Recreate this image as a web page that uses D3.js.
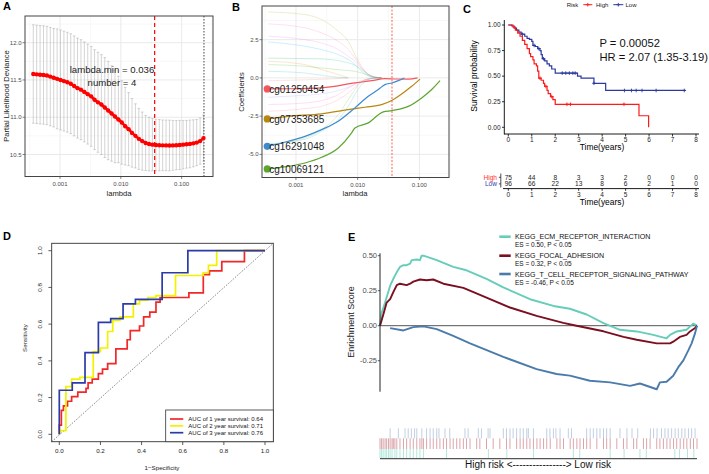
<!DOCTYPE html>
<html>
<head>
<meta charset="utf-8">
<script src="https://cdn.jsdelivr.net/npm/d3@7/dist/d3.min.js"></script>
<style>
  body { margin: 0; background: #fff; }
  svg { display: block; font-family: 'Liberation Sans', Arial, sans-serif; }
</style>
</head>
<body>
<svg id="fig" width="709" height="474"></svg>
<script>
// ---- A: cross-validation deviance ----
var cvLogLambda = [-3.44, -3.384, -3.328, -3.272, -3.216, -3.16, -3.104, -3.048, -2.992, -2.936,
  -2.88, -2.824, -2.768, -2.712, -2.656, -2.6, -2.544, -2.488, -2.432, -2.376,
  -2.32, -2.264, -2.208, -2.152, -2.096, -2.04, -1.984, -1.928, -1.872, -1.816,
  -1.76, -1.704, -1.648, -1.592, -1.536, -1.48, -1.424, -1.368, -1.312, -1.256,
  -1.2, -1.144, -1.088, -1.032, -0.976, -0.92, -0.864, -0.808, -0.752, -0.696, -0.64];
var cvMean = [11.58, 11.575, 11.57, 11.567, 11.56, 11.545, 11.53, 11.515, 11.50, 11.485,
  11.47, 11.45, 11.42, 11.39, 11.37, 11.34, 11.31, 11.28, 11.235, 11.20,
  11.17, 11.13, 11.09, 11.05, 11.01, 10.97, 10.93, 10.88, 10.84, 10.79,
  10.75, 10.71, 10.68, 10.655, 10.64, 10.632, 10.628, 10.625, 10.623, 10.622,
  10.621, 10.622, 10.625, 10.628, 10.632, 10.637, 10.642, 10.65, 10.66, 10.68, 10.72];
var cvSd = [0.66, 0.66, 0.66, 0.66, 0.66, 0.66, 0.66, 0.67, 0.67, 0.67,
  0.67, 0.67, 0.67, 0.67, 0.67, 0.67, 0.67, 0.67, 0.67, 0.67,
  0.67, 0.67, 0.66, 0.64, 0.62, 0.58, 0.56, 0.52, 0.49, 0.46,
  0.43, 0.41, 0.39, 0.37, 0.36, 0.35, 0.345, 0.345, 0.34, 0.34,
  0.34, 0.335, 0.33, 0.33, 0.325, 0.32, 0.32, 0.315, 0.31, 0.31, 0.31];
var lambdaMin = 0.036, lambda1se = 0.233;

// ---- B: coefficient paths ----
var bgLogLambda = [-3.448, -2.854, -2.584, -2.314, -2.152, -2.044, -1.936, -1.828, -1.72, -1.612];
var bgCoef = [
  [4.31, 4.14, 3.81, 3.05, 2.39, 1.52, 0.76, 0.22, 0.04, 0],
  [3.53, 3.27, 2.94, 2.39, 1.85, 1.30, 0.65, 0.26, 0.08, 0],
  [2.72, 2.50, 2.28, 1.85, 1.41, 1.08, 0.61, 0.22, 0.04, 0],
  [2.35, 2.07, 1.85, 1.52, 1.20, 0.87, 0.43, 0.13, 0.02, 0],
  [1.30, 1.26, 1.24, 1.13, 0.98, 0.83, 0.54, 0.22, 0.04, 0],
  [1.09, 0.87, 0.54, 0.22, 0],
  [0.87, 0.76, 0.65, 0.54, 0.48, 0.43, 0.32, 0.17, 0.04, 0],
  [0.43, 0.32, 0.17, 0.04, 0],
  [-0.18, -0.13, -0.09, -0.04, 0],
  [-1.27, -1.13, -1.05, -0.83, -0.61, -0.44, -0.22, -0.09, -0.02, 0],
  [-2.18, -2.01, -1.85, -1.42, -0.98, -0.61, -0.26, -0.09, -0.02, 0],
  [-4.30, -4.01, -3.49, -2.72, -1.85, -1.09, -0.44, -0.11, -0.02, 0],
  [-4.36, -3.92, -3.38, -2.40, -1.42, -0.76, -0.26, -0.05, 0, 0],
  [-1.74, -1.64, -1.48, -1.09, -0.66, -0.39, -0.18, -0.05, 0, 0]
];
var bgColors = ['#A3A500', '#FF62BC', '#E76BF3', '#00B0F6', '#00BF7D', '#E58700', '#39B600',
  '#00C0AF', '#F8766D', '#9590FF', '#FF6C91', '#00BCD8', '#7CAE00', '#FD61D1'];
var geneNames = ['cg01250454', 'cg07353685', 'cg16291048', 'cg10069121'];
var geneColors = ['#F2575C', '#B8870F', '#3C8AD0', '#5EA52F'];
var geneLogLambda = [
  [-3.465, -3.124, -2.584, -2.044, -1.77, -1.56, -1.40, -1.18, -1.03],
  [-3.465, -3.124, -2.584, -2.152, -1.882, -1.612, -1.449, -1.287, -1.125, -0.99],
  [-3.465, -3.124, -2.854, -2.584, -2.314, -2.044, -1.828, -1.666, -1.558, -1.449, -1.342, -1.244],
  [-3.465, -3.124, -2.854, -2.584, -2.314, -2.098, -2.044, -1.828, -1.585, -1.449, -1.179, -0.963, -0.8, -0.665]
];
var geneCoef = [
  [-0.72, -0.71, -0.65, -0.33, -0.18, -0.05, -0.07, -0.08, 0],
  [-2.68, -2.51, -2.35, -2.07, -1.92, -1.75, -1.48, -1.05, -0.55, -0.08],
  [-4.47, -4.14, -3.82, -3.38, -2.83, -1.96, -1.2, -0.76, -0.44, -0.33, -0.18, 0],
  [-5.95, -5.78, -5.56, -5.19, -4.58, -3.59, -3.27, -2.94, -2.22, -2.14, -1.86, -1.31, -0.76, -0.18]
];

// ---- C: Kaplan-Meier ----
var highTime = [0, 0.2, 0.3, 0.4, 0.5, 0.6, 0.7, 0.8, 0.9, 0.95, 1.05, 1.1, 1.2, 1.25, 1.3, 1.4, 1.5, 1.55, 1.65, 1.7, 1.8, 1.9, 2.0, 5.57, 5.98];
var highSurv = [1, 0.98, 0.95, 0.92, 0.89, 0.85, 0.81, 0.77, 0.72, 0.69, 0.66, 0.62, 0.60, 0.55, 0.48, 0.46, 0.43, 0.40, 0.36, 0.33, 0.30, 0.27, 0.225, 0.113, 0];
var highCensor = [1.35, 1.6, 1.85, 2.5, 2.65, 4.93];
var lowTime = [0, 0.15, 0.25, 0.35, 0.45, 0.55, 0.7, 0.8, 0.9, 1.0, 1.05, 1.15, 1.25, 1.35, 1.4, 1.45, 1.55, 1.65, 1.75, 1.85, 2.0, 2.95, 3.1, 3.65, 4.15, 7.55];
var lowSurv = [1, 0.99, 0.97, 0.95, 0.93, 0.91, 0.89, 0.87, 0.86, 0.84, 0.80, 0.79, 0.77, 0.75, 0.71, 0.67, 0.65, 0.62, 0.60, 0.57, 0.53, 0.50, 0.48, 0.43, 0.36, 0.36];
var lowCensor = [0.6, 1.1, 1.3, 1.5, 2.3, 2.45, 2.6, 2.75, 2.85, 3.65, 4.95, 5.25, 5.45, 5.7, 6.3, 7.5];
var riskYears = [0, 1, 2, 3, 4, 5, 6, 7, 8];
var highAtRisk = [75, 44, 8, 3, 3, 2, 0, 0, 0];
var lowAtRisk = [96, 66, 22, 13, 8, 6, 2, 1, 0];

// ---- D: time-dependent ROC ----
var roc1Fpr = [0, 0, 0.01, 0.02, 0.04, 0.06, 0.09, 0.13, 0.14, 0.16, 0.19, 0.21, 0.235, 0.275, 0.33, 0.345, 0.39, 0.41, 0.44, 0.47, 0.49, 0.63, 0.70, 0.73, 0.79, 0.90, 1.0];
var roc1Tpr = [0, 0.05, 0.13, 0.155, 0.18, 0.205, 0.23, 0.25, 0.28, 0.30, 0.33, 0.355, 0.385, 0.465, 0.515, 0.565, 0.59, 0.64, 0.665, 0.72, 0.745, 0.77, 0.87, 0.89, 0.94, 1.0, 1.0];
var roc2Fpr = [0, 0, 0.032, 0.06, 0.10, 0.165, 0.20, 0.235, 0.26, 0.295, 0.36, 0.39, 0.43, 0.47, 0.565, 0.70, 0.725, 0.765, 1.0];
var roc2Tpr = [0, 0.02, 0.26, 0.30, 0.31, 0.45, 0.47, 0.56, 0.62, 0.64, 0.71, 0.73, 0.745, 0.755, 0.865, 0.88, 0.92, 1.0, 1.0];
var roc3Fpr = [0, 0, 0.063, 0.125, 0.19, 0.25, 0.31, 0.37, 0.5, 0.625, 1.0];
var roc3Tpr = [0, 0.24, 0.28, 0.445, 0.61, 0.63, 0.71, 0.735, 0.88, 1.0, 1.0];
var rocLabels = ['AUC of 1 year survival:  0.64', 'AUC of 2 year survival:  0.71', 'AUC of 3 year survival: 0.76'];

// ---- E: GSEA running enrichment score ----
var ecmRank = [0, 0.5, 1.6, 3.2, 4.2, 5.3, 6.3, 7.4, 8.4, 9.5, 10, 11.6, 12.6, 13.1, 13.7, 17.9, 23.1, 27.3, 33.6, 38.9, 47.3, 54.7, 59.9, 65.2, 70.5, 75.7, 81, 86.2, 90.4, 91.5, 93.6, 96.7, 98.8, 100];
var ecmES = [0, 0.09, 0.165, 0.286, 0.335, 0.383, 0.42, 0.432, 0.432, 0.444, 0.468, 0.473, 0.468, 0.50, 0.50, 0.468, 0.42, 0.396, 0.335, 0.274, 0.189, 0.141, 0.121, 0.08, 0.019, -0.029, -0.041, -0.066, -0.09, -0.066, -0.041, -0.029, 0.015, 0];
var focalRank = [0, 1.05, 2.1, 3.2, 4.2, 5.3, 6.3, 8.4, 9.5, 10.5, 12.6, 14.7, 16.8, 20, 26.3, 33.6, 41, 49.4, 57.8, 62, 70.5, 76.8, 81, 87.3, 91.5, 92.5, 94.6, 96.7, 97.8, 99.4, 100];
var focalES = [0, 0.08, 0.165, 0.19, 0.24, 0.29, 0.30, 0.29, 0.30, 0.315, 0.33, 0.325, 0.33, 0.30, 0.27, 0.20, 0.13, 0.07, 0.02, 0, -0.04, -0.08, -0.10, -0.126, -0.126, -0.114, -0.08, -0.066, -0.041, -0.017, 0];
var tcellRank = [3.2, 7.4, 10.5, 13.7, 17.9, 23.1, 28.4, 38.9, 49.4, 55.7, 59.9, 66.2, 72.6, 78.9, 82, 87.3, 88.3, 90.4, 92.5, 94.1, 95.7, 97.3, 98.3, 99.4, 100];
var tcellES = [-0.017, -0.034, -0.01, -0.005, -0.024, -0.073, -0.126, -0.223, -0.31, -0.345, -0.357, -0.393, -0.405, -0.43, -0.413, -0.454, -0.405, -0.40, -0.357, -0.296, -0.248, -0.175, -0.126, -0.053, 0];
var tcellHits = [3.2, 5.8, 7.9, 8.9, 9.9, 10.9, 11.6, 13.2, 14.7, 15.8, 16.8, 17.9, 18.6, 20.5, 22, 26.8, 27.8, 31, 32, 34.1, 34.7, 38.9, 39.9, 41, 42, 43.1, 44.2, 45.2, 46.3, 46.8, 48.4, 52.6, 53.6, 54.7, 55.5, 56.8, 59.4, 60.4, 65.2, 66.3, 67.3, 68.4, 69.4, 70.5, 71.5, 72.6, 75.7, 77.9, 79.5, 81.3, 85.3, 86.3, 87.4, 88.8, 89.9, 90.9, 92, 93.1, 94.1, 95.2, 96.2, 97.3, 98.3, 99.4];
var focalHits = [0, 0.5, 1, 1.6, 2.1, 2.7, 3.2, 3.8, 4.2, 4.7, 5.3, 6.3, 7.4, 8.4, 9.5, 10.5, 11.6, 12.6, 13.2, 13.7, 14.7, 15.8, 16.8, 17.9, 18.9, 20, 21, 22.1, 23.1, 24.2, 25.2, 26.3, 27.3, 28.4, 30.5, 31.5, 33.6, 35.7, 37.8, 39.9, 41, 43.1, 44.2, 45.2, 46.3, 47.3, 48.4, 49.5, 50.5, 51.6, 52.6, 53.7, 55.8, 56.8, 57.9, 60, 61, 62.1, 63.1, 64.2, 65.2, 66.3, 68.4, 70.5, 71.5, 72.6, 74.7, 76.8, 77.9, 80, 81, 83.1, 84.1, 85.2, 87.3, 88.3, 89.4, 90.5, 91.5, 92.6, 93.6, 94.7, 95.8, 96.8, 97.9, 98.9, 100];
var ecmHits = [0, 0.5, 1, 1.6, 2.1, 2.7, 3.2, 3.8, 4.7, 5.3, 6.3, 7.4, 8.4, 9.5, 10.5, 11.6, 12.6, 13.7, 21, 34.2, 40, 48.4, 61, 63, 72.6, 77, 82, 84, 93, 94.5, 97, 99];
var gseaNames = ['KEGG_ECM_RECEPTOR_INTERACTION', 'KEGG_FOCAL_ADHESION', 'KEGG_T_CELL_RECEPTOR_SIGNALING_PATHWAY'];
var gseaStats = ['ES = 0.50, P < 0.05', 'ES = 0.32, P < 0.05', 'ES = -0.46, P < 0.05'];
var gseaColors = ['#66CDB9', '#7B0F1F', '#4B7BAB'];

var svg = d3.select('#fig');
svg.append('rect').attr('width', 709).attr('height', 474).attr('fill', '#fff');

function txt(g, x, y, s, size, fill, anchor, rot) {
  var t = g.append('text').attr('x', x).attr('y', y).text(s)
    .attr('font-size', size).attr('fill', fill || '#000')
    .attr('text-anchor', anchor || 'start');
  if (rot) t.attr('transform', 'rotate(-90,' + x + ',' + y + ')');
  return t;
}

// ggplot theme_bw style panel
function ggPanel(g, x, y, xMaj, xMin, yMaj, yMin, fx, fy) {
  var L = x.range()[0], R = x.range()[1], B = y.range()[0], T = y.range()[1];
  var gr = g.append('g');
  gr.selectAll('.vm').data(xMin).join('line')
    .attr('x1', d => x(d)).attr('x2', d => x(d)).attr('y1', T).attr('y2', B)
    .attr('stroke', '#F3F3F3').attr('stroke-width', 0.6);
  gr.selectAll('.hm').data(yMin).join('line')
    .attr('x1', L).attr('x2', R).attr('y1', d => y(d)).attr('y2', d => y(d))
    .attr('stroke', '#F3F3F3').attr('stroke-width', 0.6);
  gr.selectAll('.vM').data(xMaj).join('line')
    .attr('x1', d => x(d)).attr('x2', d => x(d)).attr('y1', T).attr('y2', B)
    .attr('stroke', '#E8E8E8').attr('stroke-width', 0.9);
  gr.selectAll('.hM').data(yMaj).join('line')
    .attr('x1', L).attr('x2', R).attr('y1', d => y(d)).attr('y2', d => y(d))
    .attr('stroke', '#E8E8E8').attr('stroke-width', 0.9);
  g.selectAll('.xt').data(xMaj).join('line')
    .attr('x1', d => x(d)).attr('x2', d => x(d)).attr('y1', B).attr('y2', B + 2.5)
    .attr('stroke', '#333').attr('stroke-width', 0.6);
  g.selectAll('.yt').data(yMaj).join('line')
    .attr('x1', L - 2.5).attr('x2', L).attr('y1', d => y(d)).attr('y2', d => y(d))
    .attr('stroke', '#333').attr('stroke-width', 0.6);
  g.selectAll('.xl').data(xMaj).join('text')
    .attr('x', d => x(d)).attr('y', B + 9).attr('text-anchor', 'middle')
    .attr('font-size', 6).attr('fill', '#4D4D4D').text(fx);
  g.selectAll('.yl').data(yMaj).join('text')
    .attr('x', L - 3.5).attr('y', d => y(d) + 2.1).attr('text-anchor', 'end')
    .attr('font-size', 6).attr('fill', '#4D4D4D').text(fy);
}
function border(g, x, y) {
  var L = x.range()[0], R = x.range()[1], B = y.range()[0], T = y.range()[1];
  g.append('rect').attr('x', L).attr('y', T).attr('width', R - L).attr('height', B - T)
    .attr('fill', 'none').attr('stroke', '#444').attr('stroke-width', 1);
}
var f3 = d3.format('.3f'), f1 = d => d3.format('.1f')(d).replace('\u2212', '-');

// ================= A =================
var gA = svg.append('g');
var xA = d3.scaleLog().domain([Math.pow(10, -3.576), Math.pow(10, -0.484)]).range([25, 213]);
var yA = d3.scaleLinear().domain([10.205, 12.358]).range([176.5, 16]);
ggPanel(gA, xA, yA, [0.001, 0.01, 0.1], [Math.pow(10, -3.5), Math.pow(10, -2.5), Math.pow(10, -1.5), Math.pow(10, -0.5)],
  [10.5, 11, 11.5, 12], [10.25, 10.75, 11.25, 11.75, 12.25], f3, f1);
var cvLambda = cvLogLambda.map(v => Math.pow(10, v));
gA.selectAll('.eb').data(cvLambda).join('line')
  .attr('x1', d => xA(d)).attr('x2', d => xA(d))
  .attr('y1', (d, i) => yA(cvMean[i] + cvSd[i])).attr('y2', (d, i) => yA(cvMean[i] - cvSd[i]))
  .attr('stroke', '#A8A8A8').attr('stroke-width', 0.5);
[1, -1].forEach(function (s) {
  gA.selectAll('.cap' + s).data(cvLambda).join('line')
    .attr('x1', d => xA(d) - 1.3).attr('x2', d => xA(d) + 1.3)
    .attr('y1', (d, i) => yA(cvMean[i] + s * cvSd[i])).attr('y2', (d, i) => yA(cvMean[i] + s * cvSd[i]))
    .attr('stroke', '#A8A8A8').attr('stroke-width', 0.5);
});
gA.append('line').attr('x1', xA(lambdaMin)).attr('x2', xA(lambdaMin)).attr('y1', 16).attr('y2', 176.5)
  .attr('stroke', '#FF0000').attr('stroke-width', 1.2).attr('stroke-dasharray', '4,3');
gA.append('line').attr('x1', xA(lambda1se)).attr('x2', xA(lambda1se)).attr('y1', 16).attr('y2', 176.5)
  .attr('stroke', '#444').attr('stroke-width', 1).attr('stroke-dasharray', '1.5,1.5');
gA.append('path').datum(cvLambda)
  .attr('d', d3.line().x(d => xA(d)).y((d, i) => yA(cvMean[i])))
  .attr('fill', 'none').attr('stroke', '#FF0000').attr('stroke-width', 2.5);
gA.selectAll('.pt').data(cvLambda).join('circle')
  .attr('cx', d => xA(d)).attr('cy', (d, i) => yA(cvMean[i])).attr('r', 2.2).attr('fill', '#FF0000');
border(gA, xA, yA);
txt(gA, 112, 72.8, 'lambda.min = ' + lambdaMin, 9.6, '#222', 'middle');
txt(gA, 112, 85.8, 'number = 4', 9.6, '#222', 'middle');
txt(gA, 119, 196, 'lambda', 7.6, '#222', 'middle');
txt(gA, 8.5, 96, 'Partial Likelihood Deviance', 7.6, '#222', 'middle', true);
txt(gA, 3, 10, 'A', 11, '#000').attr('font-weight', 'bold');

// ================= B =================
var gB = svg.append('g');
var xB = d3.scaleLog().domain([Math.pow(10, -3.55), Math.pow(10, -0.52)]).range([262, 449]);
var yB = d3.scaleLinear().domain([-6.51, 4.70]).range([177.5, 6]);
ggPanel(gB, xB, yB, [0.001, 0.01, 0.1], [Math.pow(10, -3.5), Math.pow(10, -2.5), Math.pow(10, -1.5), Math.pow(10, -0.5)],
  [-5, -2.5, 0, 2.5], [-6.25, -3.75, -1.25, 1.25, 3.75], f3, f1);
var lineB = d3.line().curve(d3.curveMonotoneX).x(d => xB(Math.pow(10, d[0]))).y(d => yB(d[1]));
gB.selectAll('.bg').data(bgCoef).join('path')
  .attr('d', c => lineB(c.map((v, i) => [bgLogLambda[i], v])))
  .attr('fill', 'none').attr('stroke', (c, i) => bgColors[i]).attr('stroke-opacity', 0.2).attr('stroke-width', 1);
gB.append('line').attr('x1', xB(lambdaMin)).attr('x2', xB(lambdaMin)).attr('y1', 6).attr('y2', 177.5)
  .attr('stroke', '#FF6F61').attr('stroke-width', 1.1).attr('stroke-dasharray', '2,1.5');
geneCoef.forEach(function (c, k) {
  gB.append('path').attr('d', lineB(c.map((v, i) => [geneLogLambda[k][i], v])))
    .attr('fill', 'none').attr('stroke', geneColors[k]).attr('stroke-width', 1.2);
});
geneCoef.forEach(function (c, k) {
  var cx = xB(Math.pow(10, geneLogLambda[k][0])), cy = yB(c[0]);
  gB.append('circle').attr('cx', cx).attr('cy', cy).attr('r', 3.6).attr('fill', geneColors[k]);
  txt(gB, cx + 2, cy + 3.6, geneNames[k], 10, '#1A1A1A');
});
border(gB, xB, yB);
txt(gB, 355, 195.5, 'lambda', 7.6, '#222', 'middle');
txt(gB, 244, 92, 'Coefficients', 7.6, '#222', 'middle', true);
txt(gB, 232, 10.5, 'B', 11, '#000').attr('font-weight', 'bold');

// ================= C =================
var gC = svg.append('g');
var xC = d3.scaleLinear().domain([0, 8]).range([508.3, 696]);
var yC = d3.scaleLinear().domain([0, 1]).range([127.3, 25]);
var kmColors = { high: '#FF1A1A', low: '#2C3A9F' };
gC.append('line').attr('x1', 504.3).attr('x2', 504.3).attr('y1', 20).attr('y2', 134.3).attr('stroke', '#000').attr('stroke-width', 0.9);
gC.append('line').attr('x1', 504).attr('x2', 699).attr('y1', 134).attr('y2', 134).attr('stroke', '#000').attr('stroke-width', 0.9);
gC.selectAll('.yt').data([0, 0.25, 0.5, 0.75, 1]).join('line')
  .attr('x1', 502).attr('x2', 504.3).attr('y1', d => yC(d)).attr('y2', d => yC(d)).attr('stroke', '#000').attr('stroke-width', 0.8);
gC.selectAll('.yl').data([0, 0.25, 0.5, 0.75, 1]).join('text')
  .attr('x', 500.5).attr('y', d => yC(d) + 2.3).attr('text-anchor', 'end').attr('font-size', 6.5).attr('fill', '#222')
  .text(d3.format('.2f'));
gC.selectAll('.xt').data(riskYears).join('line')
  .attr('x1', d => xC(d)).attr('x2', d => xC(d)).attr('y1', 134).attr('y2', 136.5).attr('stroke', '#000').attr('stroke-width', 0.8);
gC.selectAll('.xl').data(riskYears).join('text')
  .attr('x', d => xC(d)).attr('y', 141.8).attr('text-anchor', 'middle').attr('font-size', 6.5).attr('fill', '#222').text(d => d);
txt(gC, 602, 149.5, 'Time(years)', 8.4, '#000', 'middle');
txt(gC, 476.5, 76, 'Survival probability', 8.5, '#000', 'middle', true);
var kmLine = d3.line().curve(d3.curveStepAfter).x(d => xC(d[0])).y(d => yC(d[1]));
function survAt(times, surv, t) { return surv[Math.max(0, d3.bisectRight(times, t) - 1)]; }
function plus(g, x, y, col) {
  g.append('path').attr('d', 'M' + (x - 1.8) + ',' + y + 'h3.6M' + x + ',' + (y - 1.8) + 'v3.6')
    .attr('stroke', col).attr('stroke-width', 0.9).attr('fill', 'none');
}
gC.append('path').attr('d', kmLine(lowTime.map((t, i) => [t, lowSurv[i]])))
  .attr('fill', 'none').attr('stroke', kmColors.low).attr('stroke-width', 1.2);
gC.append('path').attr('d', kmLine(highTime.map((t, i) => [t, highSurv[i]])))
  .attr('fill', 'none').attr('stroke', kmColors.high).attr('stroke-width', 1.2);
lowCensor.forEach(t => plus(gC, xC(t), yC(survAt(lowTime, lowSurv, t)), kmColors.low));
highCensor.forEach(t => plus(gC, xC(t), yC(survAt(highTime, highSurv, t)), kmColors.high));
txt(gC, 599.5, 46.7, 'P = 0.00052', 11.2, '#111');
txt(gC, 599.5, 61.3, 'HR = 2.07 (1.35-3.19)', 11.2, '#111');
// legend
txt(gC, 566.7, 6.8, 'Risk', 6, '#222');
gC.append('line').attr('x1', 583.3).attr('x2', 592.3).attr('y1', 4.7).attr('y2', 4.7).attr('stroke', kmColors.high).attr('stroke-width', 1);
plus(gC, 587.8, 4.7, kmColors.high);
txt(gC, 596, 6.8, 'High', 6, '#222');
gC.append('line').attr('x1', 613.3).attr('x2', 623.3).attr('y1', 4.7).attr('y2', 4.7).attr('stroke', kmColors.low).attr('stroke-width', 1);
plus(gC, 618.3, 4.7, kmColors.low);
txt(gC, 625.5, 6.8, 'Low', 6, '#222');
// risk table
gC.selectAll('.rh').data(highAtRisk).join('text')
  .attr('x', (d, i) => xC(riskYears[i])).attr('y', 179.6).attr('text-anchor', 'middle').attr('font-size', 6.6).attr('fill', '#222').text(d => d);
gC.selectAll('.rl').data(lowAtRisk).join('text')
  .attr('x', (d, i) => xC(riskYears[i])).attr('y', 186.3).attr('text-anchor', 'middle').attr('font-size', 6.6).attr('fill', '#222').text(d => d);
txt(gC, 497, 179.6, 'High', 6.6, '#FF3030', 'end');
txt(gC, 497, 186.3, 'Low', 6.6, '#3040B0', 'end');
gC.append('path').attr('d', 'M500.8,173.5V187.5M498.8,177.3H500.8M498.8,183.9H500.8').attr('stroke', '#222').attr('stroke-width', 0.8).attr('fill', 'none');
gC.append('line').attr('x1', 503).attr('x2', 699).attr('y1', 188.6).attr('y2', 188.6).attr('stroke', '#000').attr('stroke-width', 0.9);
gC.selectAll('.rt').data(riskYears).join('line')
  .attr('x1', d => xC(d)).attr('x2', d => xC(d)).attr('y1', 188.6).attr('y2', 190.8).attr('stroke', '#000').attr('stroke-width', 0.8);
gC.selectAll('.rtl').data(riskYears).join('text')
  .attr('x', d => xC(d)).attr('y', 196.8).attr('text-anchor', 'middle').attr('font-size', 6.5).attr('fill', '#222').text(d => d);
txt(gC, 602, 205, 'Time(years)', 8.4, '#000', 'middle');
txt(gC, 463, 13, 'C', 11, '#000').attr('font-weight', 'bold');

// ================= D =================
var gD = svg.append('g');
var xD = d3.scaleLinear().domain([0, 1]).range([59.3, 265]);
var yD = d3.scaleLinear().domain([0, 1]).range([434.3, 250.7]);
var dTicks = [0, 0.2, 0.4, 0.6, 0.8, 1];
gD.append('line').attr('x1', 51.7).attr('y1', 441.7).attr('x2', 273.3).attr('y2', 243.3)
  .attr('stroke', '#666').attr('stroke-width', 0.8).attr('stroke-dasharray', '1.5,1.5');
var rocLine = d3.line().curve(d3.curveStepAfter).x(d => xD(d[0])).y(d => yD(d[1]));
[[roc1Fpr, roc1Tpr, '#F02828'], [roc2Fpr, roc2Tpr, '#F2F200'], [roc3Fpr, roc3Tpr, '#2B3BA8']].forEach(function (r) {
  gD.append('path').attr('d', rocLine(r[0].map((f, i) => [f, r[1][i]])))
    .attr('fill', 'none').attr('stroke', r[2]).attr('stroke-width', 1.7);
});
gD.append('rect').attr('x', 51.7).attr('y', 243.3).attr('width', 221.6).attr('height', 198.4)
  .attr('fill', 'none').attr('stroke', '#333').attr('stroke-width', 0.9);
gD.selectAll('.xt').data(dTicks).join('line')
  .attr('x1', d => xD(d)).attr('x2', d => xD(d)).attr('y1', 441.7).attr('y2', 445).attr('stroke', '#333').attr('stroke-width', 0.8);
gD.selectAll('.xl').data(dTicks).join('text')
  .attr('x', d => xD(d)).attr('y', 453.2).attr('text-anchor', 'middle').attr('font-size', 6.2).attr('fill', '#222').text(d3.format('.1f'));
gD.selectAll('.yt').data(dTicks).join('line')
  .attr('x1', 48.4).attr('x2', 51.7).attr('y1', d => yD(d)).attr('y2', d => yD(d)).attr('stroke', '#333').attr('stroke-width', 0.8);
gD.selectAll('.yl').data(dTicks).join('text')
  .attr('x', 42.2).attr('y', d => yD(d)).attr('text-anchor', 'middle').attr('font-size', 6.2).attr('fill', '#222')
  .attr('transform', d => 'rotate(-90,42.2,' + yD(d) + ')').text(d3.format('.1f'));
txt(gD, 162, 470, '1\u2212Specificity', 6.2, '#222', 'middle');
txt(gD, 27, 338, 'Sensitivity', 6.2, '#222', 'middle', true);
gD.append('rect').attr('x', 165.7).attr('y', 410).attr('width', 107.6).attr('height', 31.7)
  .attr('fill', '#fff').attr('stroke', '#333').attr('stroke-width', 0.8);
['#F02828', '#F2F200', '#2B3BA8'].forEach(function (c, i) {
  var yy = 419 + i * 6.85;
  gD.append('line').attr('x1', 170).attr('x2', 183.3).attr('y1', yy).attr('y2', yy).attr('stroke', c).attr('stroke-width', 1.7);
  txt(gD, 188.3, yy + 2.1, rocLabels[i], 6, '#111');
});
txt(gD, 3, 240, 'D', 11, '#000').attr('font-weight', 'bold');

// ================= E =================
var gE = svg.append('g');
var xE = d3.scaleLinear().domain([0, 100]).range([380, 697]);
var yE = d3.scaleLinear().domain([-0.48, 0.52]).range([392.9, 252.9]);
gE.append('line').attr('x1', 380).attr('x2', 697).attr('y1', yE(0)).attr('y2', yE(0)).attr('stroke', '#555').attr('stroke-width', 1);
var esLine = d3.line().x(d => xE(d[0])).y(d => yE(d[1]));
[[ecmRank, ecmES], [focalRank, focalES], [tcellRank, tcellES]].forEach(function (s, k) {
  gE.append('path').attr('d', esLine(s[0].map((r, i) => [r, s[1][i]])))
    .attr('fill', 'none').attr('stroke', gseaColors[k]).attr('stroke-width', 1.9).attr('stroke-linejoin', 'round');
});
gE.append('line').attr('x1', 380).attr('x2', 380).attr('y1', 253.3).attr('y2', 391.7).attr('stroke', '#222').attr('stroke-width', 1);
var eTicks = [-0.25, 0, 0.25, 0.5];
gE.selectAll('.yt').data(eTicks).join('line')
  .attr('x1', 377.8).attr('x2', 380).attr('y1', d => yE(d)).attr('y2', d => yE(d)).attr('stroke', '#333').attr('stroke-width', 0.8);
gE.selectAll('.yl').data(eTicks).join('text')
  .attr('x', 377).attr('y', d => yE(d) + 2.6).attr('text-anchor', 'end').attr('font-size', 7.5).attr('fill', '#4D4D4D')
  .text(d => d3.format('.2f')(d).replace('\u2212', '-'));
txt(gE, 354, 322, 'Enrichment Score', 9, '#222', 'middle', true);
// barcode
[[tcellHits, 428.3, 438.3, '#9DB3D2', 0.8], [focalHits, 438.3, 449, '#A8313F', 0.55], [ecmHits, 449, 458.3, '#7DD6C4', 0.75]].forEach(function (b) {
  gE.selectAll(null).data(b[0]).join('line')
    .attr('x1', d => xE(d)).attr('x2', d => xE(d)).attr('y1', b[1]).attr('y2', b[2])
    .attr('stroke', b[3]).attr('stroke-opacity', b[4]).attr('stroke-width', 0.8);
});
gE.append('line').attr('x1', 380).attr('x2', 697).attr('y1', 458.6).attr('y2', 458.6).attr('stroke', '#555').attr('stroke-width', 1.2);
txt(gE, 538, 467.5, 'High risk <' + '-'.repeat(16) + '> Low risk', 10, '#111', 'middle');
// legend
gseaNames.forEach(function (n, i) {
  var yy = [236.7, 255.7, 274][i];
  gE.append('line').attr('x1', 499.3).attr('x2', 510.7).attr('y1', yy).attr('y2', yy).attr('stroke', gseaColors[i]).attr('stroke-width', 2.6);
  txt(gE, 515, yy + 2.5, n, 7.1, '#111');
  txt(gE, 515, yy + 10.6, gseaStats[i], 6.5, '#111');
});
txt(gE, 348, 240.5, 'E', 11, '#000').attr('font-weight', 'bold');
</script>
</body>
</html>
